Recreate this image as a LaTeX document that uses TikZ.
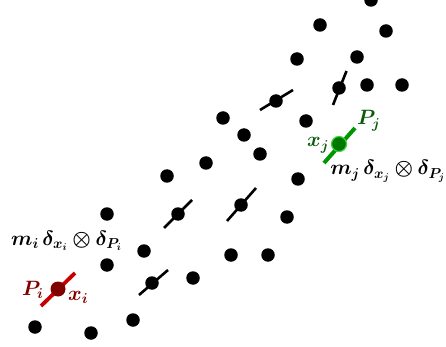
\documentclass[tikz,border=0pt]{standalone}
\usepackage{amsmath,amssymb,bm}
\usetikzlibrary{calc}
\definecolor{dred}{RGB}{128,0,0}
\definecolor{lred}{RGB}{200,0,0}
\definecolor{dgreen}{RGB}{10,90,10}
\definecolor{mgreen}{RGB}{0,150,0}
\definecolor{lgreen}{RGB}{60,210,60}
\begin{document}
\begin{tikzpicture}[x=1pt,y=-1pt,
  pt/.style={circle,fill=black,inner sep=0pt,minimum size=13.5pt},
  tick/.style={line width=2.6pt},
  lbl/.style={inner sep=0pt,font=\fontsize{20.5}{24}\selectfont},
]
\useasboundingbox (0,0) rectangle (446,347);
% plain particles
\foreach \n/\x/\y in {a1/371/0, a2/320/25, a3/386/31, a4/297/59, a5/357/57,
  a6/367/85, a7/402/85, a8/223/118, a9/306/121, a10/244/135, a11/260/154,
  a12/206/163, a13/298/179, a14/167/176, a15/287/217, a16/107/214,
  a17/144/251, a18/231/255, a19/268/255, a20/107/265, a21/193/278,
  a22/133/320, a23/35/327, a24/91/333}
  \node[pt] (\n) at (\x,\y) {};
% particles with momentum ticks
\node[pt] (t1) at (339,88) {};
\draw[tick] ($(t1)+(7.5,-17)$) -- ($(t1)+(-6,17)$);
\node[pt] (t2) at (276,101) {};
\draw[tick] ($(t2)+(17,-11)$) -- ($(t2)+(-16,9)$);
\node[pt] (t3) at (178,214) {};
\draw[tick] ($(t3)+(14,-14)$) -- ($(t3)+(-14,14)$);
\node[pt] (t4) at (241,205) {};
\draw[tick] ($(t4)+(15,-17)$) -- ($(t4)+(-14,16)$);
\node[pt] (t5) at (152,283) {};
\draw[tick] ($(t5)+(16,-13)$) -- ($(t5)+(-13,12)$);
% particle i (red)
\coordinate (ri1) at (75,273);
\coordinate (ri2) at (41,306);
\draw[lred,line width=3.8pt] (ri1) -- (ri2);
\node[circle,fill=dred,inner sep=0pt,minimum size=15pt] (pi) at (58,289) {};
\node[lbl,text=dred,anchor=base west] (Pi) at (22,295) {$\bm{P_i}$};
\node[lbl,text=dred,anchor=base west] (xi) at (68,300) {$\bm{x_i}$};
\node[lbl,anchor=base west] (mi) at (11,245) {$\bm{m_i\,\delta_{x_i}\otimes\delta_{P_i}}$};
% particle j (green)
\coordinate (gj1) at (355,128);
\coordinate (gj2) at (324,163);
\draw[mgreen,line width=4pt] (gj1) -- (gj2);
\node[circle,fill=mgreen!80!black,draw=lgreen,line width=1.2pt,inner sep=0pt,minimum size=15pt] (pj) at (339,144) {};
\node[lbl,text=dgreen,anchor=base west] (Pj) at (357,125) {$\bm{P_j}$};
\node[lbl,text=dgreen,anchor=base west] (xj) at (307,147) {$\bm{x_j}$};
\node[lbl,anchor=base east] (mj) at (445.5,175) {$\bm{m_j\,\delta_{x_j}\otimes\delta_{P_j}}$};
\end{tikzpicture}
\end{document}
